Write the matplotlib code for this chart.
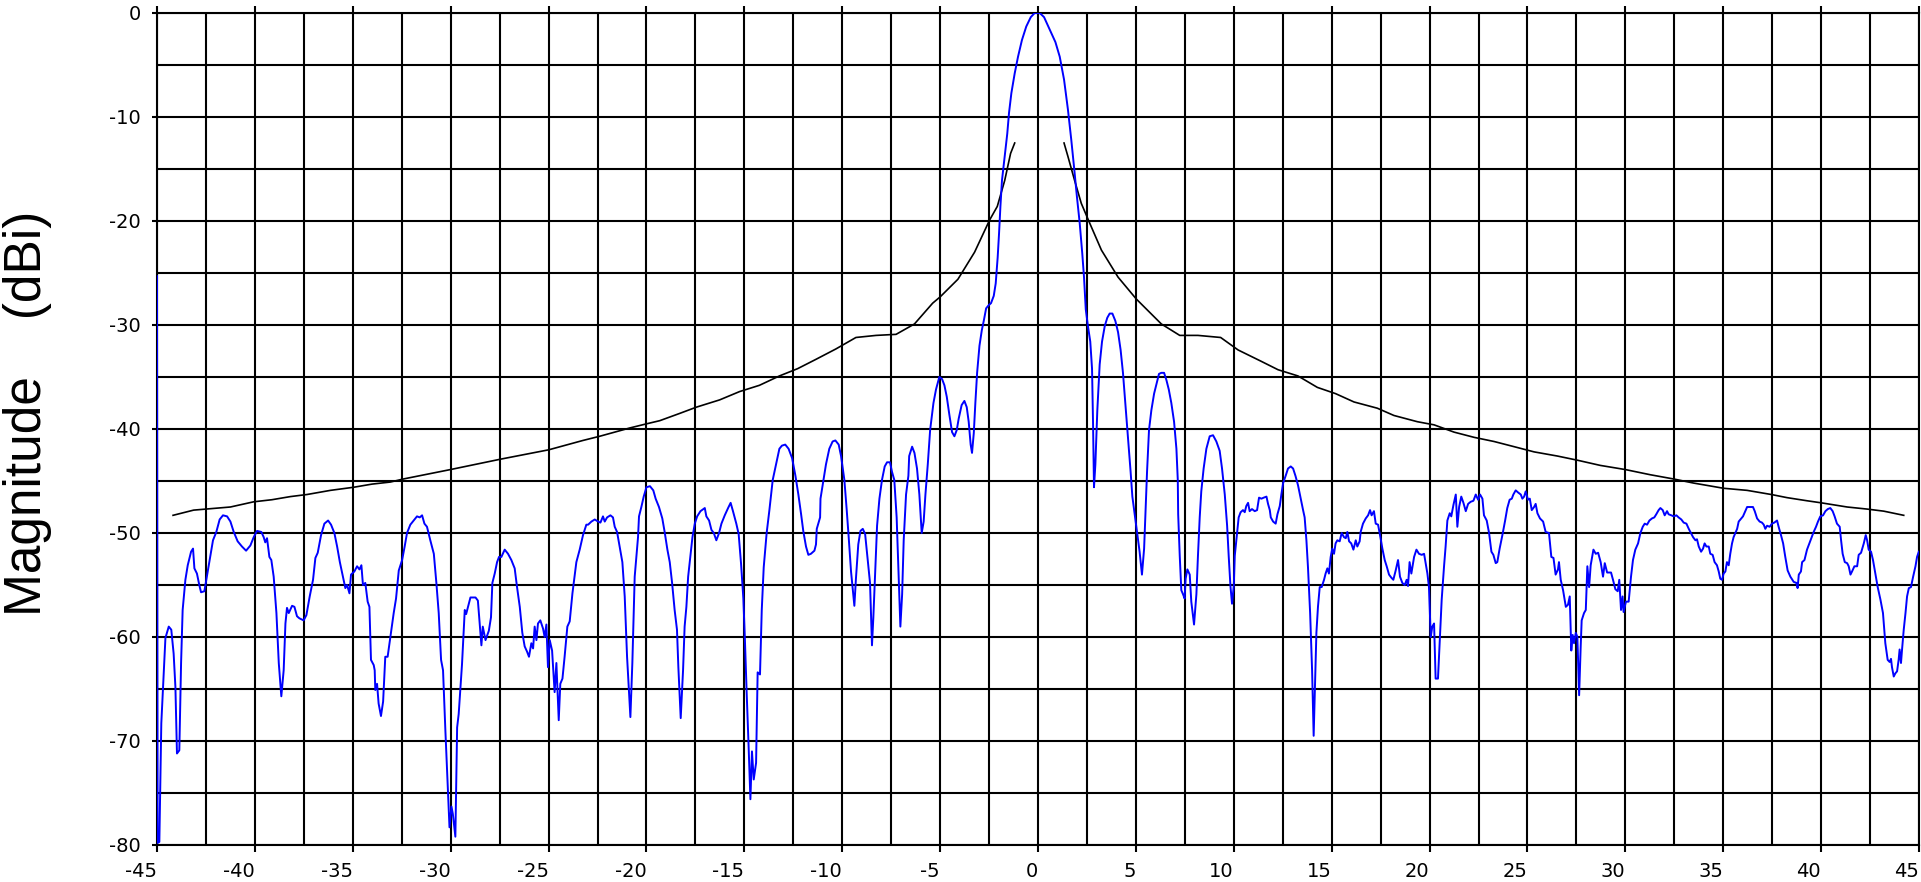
import numpy as np
import matplotlib
matplotlib.use("Agg")
import matplotlib.pyplot as plt

# ---------------- data (angle in degrees, magnitude in dBi) ----------------
pattern_left = [
    (-45.00, -25.3), (-44.97, -79.8), (-44.88, -79.7), (-44.78, -68.3), (-44.57, -60.1),
    (-44.40, -59.0), (-44.27, -59.3), (-44.15, -61.6), (-44.06, -64.8), (-43.98, -71.2),
    (-43.86, -70.9), (-43.77, -62.5), (-43.69, -57.4), (-43.55, -54.5), (-43.43, -53.1),
    (-43.26, -51.8), (-43.16, -51.5), (-43.09, -53.4), (-42.96, -53.9), (-42.84, -55.0),
    (-42.75, -55.7), (-42.58, -55.6), (-42.48, -54.5), (-42.31, -52.6), (-42.14, -50.7),
    (-41.97, -49.9), (-41.80, -48.7), (-41.63, -48.3), (-41.42, -48.4), (-41.25, -48.9),
    (-41.08, -49.9), (-40.88, -50.8), (-40.66, -51.3), (-40.45, -51.7), (-40.23, -51.2),
    (-40.06, -50.4), (-39.89, -49.8), (-39.67, -49.9), (-39.55, -50.4), (-39.47, -50.9),
    (-39.38, -50.5), (-39.26, -52.3), (-39.16, -52.6), (-39.04, -54.2), (-38.90, -57.7),
    (-38.78, -62.5), (-38.65, -65.7), (-38.53, -63.2), (-38.44, -58.7), (-38.36, -57.2),
    (-38.27, -57.7), (-38.10, -57.0), (-37.98, -57.1), (-37.85, -58.0), (-37.73, -58.2),
    (-37.51, -58.4), (-37.37, -57.9), (-37.20, -56.1), (-37.03, -54.5), (-36.91, -52.4),
    (-36.79, -51.9), (-36.62, -50.2), (-36.45, -49.1), (-36.26, -48.8), (-36.11, -49.2),
    (-35.94, -50.0), (-35.80, -51.3), (-35.66, -52.8), (-35.50, -54.2), (-35.38, -55.3),
    (-35.29, -55.0), (-35.17, -55.8), (-35.09, -54.0), (-34.92, -53.7), (-34.78, -53.2),
    (-34.66, -53.5), (-34.56, -53.1), (-34.48, -55.0), (-34.36, -54.8), (-34.24, -56.6),
    (-34.15, -57.1), (-34.07, -62.2), (-33.93, -62.7), (-33.88, -63.2), (-33.85, -65.1),
    (-33.76, -64.5), (-33.68, -66.4), (-33.56, -67.6), (-33.45, -66.2), (-33.34, -61.9),
    (-33.22, -61.9), (-33.08, -60.0), (-32.91, -57.7), (-32.79, -56.3), (-32.65, -53.6),
    (-32.48, -52.6), (-32.35, -51.3), (-32.23, -50.0), (-32.06, -49.2), (-31.89, -48.8),
    (-31.72, -48.4), (-31.58, -48.5), (-31.46, -48.3), (-31.34, -49.1), (-31.21, -49.4),
    (-31.04, -50.7), (-30.86, -52.0), (-30.73, -54.8), (-30.61, -57.7), (-30.49, -62.2),
    (-30.39, -63.2), (-30.27, -69.0), (-30.06, -78.3), (-29.96, -76.3), (-29.89, -77.0),
    (-29.76, -79.2), (-29.67, -68.7), (-29.59, -67.4), (-29.42, -62.6), (-29.28, -57.4),
    (-29.21, -57.8), (-28.99, -56.2), (-28.73, -56.2), (-28.61, -56.5), (-28.43, -60.8),
    (-28.36, -59.0), (-28.22, -60.3), (-28.05, -59.4), (-27.94, -58.1), (-27.87, -54.8),
    (-27.75, -53.9), (-27.63, -52.8), (-27.53, -52.3), (-27.41, -52.3), (-27.24, -51.6),
    (-27.07, -52.0), (-26.90, -52.6), (-26.73, -53.4), (-26.61, -55.2), (-26.47, -57.1),
    (-26.34, -59.6), (-26.22, -60.9), (-26.10, -61.4), (-26.00, -61.9), (-25.88, -60.6),
    (-25.79, -61.1), (-25.71, -59.0), (-25.62, -60.3), (-25.54, -58.7), (-25.42, -58.4),
    (-25.28, -59.2), (-25.20, -60.0), (-25.11, -58.8), (-25.03, -62.9), (-24.94, -60.3),
    (-24.82, -61.3), (-24.69, -65.3), (-24.60, -62.5), (-24.48, -68.0), (-24.40, -64.5),
    (-24.29, -64.0), (-24.18, -61.9), (-24.04, -59.0), (-23.92, -58.5), (-23.78, -55.8),
    (-23.58, -52.8), (-23.41, -51.6), (-23.24, -50.2), (-23.07, -49.2), (-22.98, -49.2),
    (-22.81, -48.9), (-22.64, -48.7), (-22.47, -48.9), (-22.35, -49.0), (-22.22, -48.4),
    (-22.13, -48.9), (-22.01, -48.5), (-21.84, -48.3), (-21.71, -48.5), (-21.62, -49.4),
    (-21.50, -49.9), (-21.37, -51.3), (-21.23, -52.8), (-21.11, -56.1), (-20.99, -61.9),
    (-20.82, -67.7), (-20.72, -62.5), (-20.60, -54.2), (-20.43, -50.4), (-20.38, -48.4),
    (-20.26, -47.5), (-20.14, -46.5), (-20.00, -45.6), (-19.82, -45.5), (-19.65, -45.9),
    (-19.53, -46.7), (-19.36, -47.5), (-19.19, -48.6), (-19.07, -49.9), (-18.93, -51.6),
    (-18.81, -52.8), (-18.69, -54.8), (-18.56, -57.4), (-18.44, -59.3), (-18.37, -62.9),
    (-18.25, -67.8), (-18.13, -63.2), (-18.05, -59.0), (-17.96, -57.1), (-17.87, -54.2),
    (-17.76, -52.3), (-17.65, -50.4), (-17.53, -49.1), (-17.41, -48.4), (-17.24, -47.9),
    (-17.02, -47.6), (-16.94, -48.4), (-16.80, -48.8), (-16.68, -49.7), (-16.56, -50.0),
    (-16.43, -50.7), (-16.29, -50.0), (-16.17, -49.1), (-16.00, -48.3), (-15.83, -47.6),
    (-15.70, -47.1), (-15.58, -47.9), (-15.41, -49.1), (-15.29, -50.1), (-15.17, -52.9),
    (-15.05, -56.3), (-14.97, -60.3), (-14.88, -65.4), (-14.78, -70.6), (-14.69, -75.6),
    (-14.61, -71.0), (-14.52, -73.7), (-14.40, -72.1), (-14.32, -63.4), (-14.20, -63.6),
    (-14.11, -57.4), (-14.01, -53.3), (-13.86, -50.0), (-13.72, -47.8), (-13.55, -44.9),
    (-13.38, -43.4), (-13.21, -41.9), (-13.08, -41.6), (-12.91, -41.5), (-12.74, -41.9),
    (-12.56, -42.8), (-12.39, -44.5), (-12.24, -46.3), (-12.10, -48.2), (-11.99, -49.8),
    (-11.85, -51.3), (-11.73, -52.1), (-11.60, -52.0), (-11.42, -51.7), (-11.34, -51.1),
    (-11.30, -49.6), (-11.13, -48.5), (-11.11, -46.7), (-11.00, -45.4), (-10.83, -43.4),
    (-10.66, -41.9), (-10.49, -41.2), (-10.35, -41.1), (-10.18, -41.5), (-10.06, -42.6),
    (-9.89, -44.9), (-9.77, -47.8), (-9.67, -50.4), (-9.55, -53.7), (-9.38, -57.0),
    (-9.30, -54.4), (-9.18, -51.1), (-9.07, -49.8), (-8.95, -49.6), (-8.83, -50.1),
    (-8.70, -52.6), (-8.58, -54.8), (-8.48, -60.8), (-8.41, -58.1), (-8.32, -54.0),
    (-8.22, -49.3), (-8.10, -46.7), (-7.97, -44.9), (-7.83, -43.6), (-7.71, -43.2),
    (-7.56, -43.2), (-7.46, -44.1), (-7.34, -44.9), (-7.22, -48.5), (-7.12, -54.0),
    (-7.03, -59.0), (-6.94, -55.9), (-6.86, -50.7), (-6.74, -46.3), (-6.62, -44.5),
    (-6.58, -42.6), (-6.43, -41.7), (-6.31, -42.3), (-6.18, -43.8), (-6.06, -46.3),
    (-5.94, -50.0), (-5.84, -48.9), (-5.75, -46.3), (-5.63, -43.4), (-5.51, -40.1),
    (-5.34, -37.5), (-5.21, -36.2), (-5.04, -35.0), (-4.90, -35.2), (-4.78, -35.8),
    (-4.66, -36.9), (-4.53, -38.6), (-4.39, -40.3), (-4.27, -40.7), (-4.15, -40.1),
    (-4.05, -39.0), (-3.90, -37.7), (-3.76, -37.3), (-3.64, -37.9), (-3.54, -39.3),
    (-3.44, -41.5), (-3.37, -42.3), (-3.28, -40.4), (-3.20, -37.5), (-3.11, -34.6),
    (-2.99, -32.0), (-2.87, -30.5), (-2.77, -29.6), (-2.65, -28.4), (-2.52, -28.1),
    (-2.40, -27.9), (-2.26, -27.2),
]

pattern_main = [
    (-2.16, -26.0), (-2.06, -23.5), (-1.99, -21.2), (-1.92, -18.6), (-1.84, -16.1),
    (-1.70, -13.8), (-1.57, -11.6), (-1.48, -9.6), (-1.36, -7.7), (-1.19, -5.8),
    (-1.02, -4.2), (-0.82, -2.6), (-0.60, -1.3), (-0.37, -0.4), (-0.17, 0.0),
    (0.09, 0.0), (0.31, -0.4), (0.60, -1.6), (0.89, -2.8), (1.11, -4.2),
    (1.33, -6.4), (1.53, -9.3), (1.70, -12.2), (1.84, -14.8), (1.99, -17.7),
    (2.13, -20.2), (2.26, -23.1), (2.35, -25.4),
]

pattern_right = [
    (2.44, -28.5), (2.55, -30.1), (2.67, -31.6), (2.76, -34.2), (2.81, -39.3),
    (2.86, -45.6), (2.93, -43.4), (3.03, -38.2), (3.15, -33.8), (3.27, -31.6),
    (3.41, -30.1), (3.54, -29.3), (3.66, -28.9), (3.80, -28.9), (3.95, -29.6),
    (4.09, -30.7), (4.22, -32.4), (4.34, -34.6), (4.46, -37.5), (4.60, -40.8),
    (4.73, -44.1), (4.82, -46.5), (4.94, -48.2), (5.07, -50.0), (5.19, -51.8),
    (5.31, -54.0), (5.42, -51.5), (5.48, -48.5), (5.57, -44.1), (5.67, -40.1),
    (5.79, -38.2), (5.93, -36.6), (6.05, -35.7), (6.18, -34.7), (6.30, -34.6),
    (6.44, -34.6), (6.56, -35.3), (6.68, -36.2), (6.81, -37.5), (6.95, -39.3),
    (7.07, -41.9), (7.14, -44.9), (7.16, -48.2), (7.24, -52.2), (7.32, -55.5),
    (7.41, -55.9), (7.49, -56.3), (7.54, -54.4), (7.63, -53.5), (7.75, -54.0),
    (7.83, -56.6), (7.97, -58.8), (8.09, -55.9), (8.17, -52.2), (8.26, -48.5),
    (8.34, -46.0), (8.46, -43.8), (8.60, -41.9), (8.77, -40.7), (8.94, -40.6),
    (9.11, -41.2), (9.28, -42.1), (9.40, -43.8), (9.54, -46.3), (9.66, -49.3),
    (9.74, -52.2), (9.83, -55.1), (9.91, -56.8), (10.00, -55.1), (10.05, -52.2),
    (10.13, -50.7), (10.25, -48.5), (10.35, -48.0), (10.47, -47.8), (10.56, -48.0),
    (10.64, -47.4), (10.73, -47.1), (10.81, -47.9), (10.93, -47.7), (11.07, -47.9),
    (11.19, -47.8), (11.29, -46.6), (11.41, -46.7), (11.53, -46.6), (11.67, -46.5),
    (11.75, -47.2), (11.84, -47.8), (11.89, -48.5), (12.01, -48.9), (12.14, -49.1),
    (12.23, -48.2), (12.35, -47.4), (12.43, -46.3), (12.52, -45.2), (12.65, -44.5),
    (12.77, -43.8), (12.91, -43.6), (13.03, -43.8), (13.15, -44.5), (13.28, -45.4),
    (13.42, -46.7), (13.54, -47.8), (13.62, -48.5), (13.71, -50.7), (13.79, -53.3),
    (13.90, -57.7), (14.00, -63.2), (14.08, -69.5), (14.15, -64.5), (14.22, -59.6),
    (14.30, -57.1), (14.39, -55.2), (14.49, -55.2), (14.61, -54.5), (14.69, -53.9),
    (14.78, -53.4), (14.86, -53.9), (14.95, -52.3), (15.03, -51.5), (15.12, -52.0),
    (15.20, -51.0), (15.29, -50.7), (15.41, -50.8), (15.51, -50.0), (15.63, -50.4),
    (15.72, -50.5), (15.80, -49.9), (15.89, -50.8), (16.00, -51.0), (16.11, -51.6),
    (16.23, -50.7), (16.31, -51.3), (16.43, -50.8), (16.48, -49.9), (16.60, -49.1),
    (16.74, -48.6), (16.86, -48.3), (16.96, -47.8), (17.04, -48.3), (17.16, -47.9),
    (17.25, -49.1), (17.37, -49.2), (17.47, -50.2), (17.59, -51.5), (17.71, -52.6),
    (17.81, -53.2), (17.93, -54.0), (18.05, -54.3), (18.15, -54.5), (18.27, -53.6),
    (18.39, -52.6), (18.49, -54.2), (18.61, -54.8), (18.73, -55.0), (18.83, -54.5),
    (18.90, -55.1), (18.98, -52.8), (19.07, -53.9), (19.21, -52.3), (19.33, -51.6),
    (19.46, -52.0), (19.60, -52.1), (19.72, -52.0), (19.80, -52.9), (19.89, -53.9),
    (19.97, -55.2), (20.06, -60.0), (20.14, -59.0), (20.23, -58.7), (20.31, -64.0),
    (20.43, -64.0), (20.53, -60.0), (20.62, -56.4), (20.74, -53.2), (20.82, -51.3),
    (20.91, -48.8), (21.03, -48.1), (21.11, -48.4), (21.22, -47.3), (21.34, -46.3),
    (21.42, -49.4), (21.51, -47.5), (21.62, -46.5), (21.73, -47.1), (21.85, -47.9),
    (21.97, -47.2), (22.10, -47.0), (22.24, -46.9), (22.36, -46.3), (22.48, -46.8),
    (22.58, -46.3), (22.70, -46.7), (22.78, -48.3), (22.92, -48.8), (23.04, -50.0),
    (23.16, -51.8), (23.26, -52.1), (23.38, -52.9), (23.46, -52.8), (23.58, -51.5),
    (23.72, -50.2), (23.86, -48.8), (23.97, -47.6), (24.09, -46.8), (24.20, -46.7),
    (24.28, -46.3), (24.40, -45.9), (24.52, -46.1), (24.66, -46.3), (24.74, -46.7),
    (24.83, -46.5), (24.91, -46.0), (25.03, -46.8), (25.12, -46.7), (25.22, -47.8),
    (25.34, -47.5), (25.42, -47.2), (25.51, -48.1), (25.64, -48.6), (25.80, -48.9),
    (25.93, -49.9), (26.10, -50.0), (26.22, -52.3), (26.33, -52.4), (26.44, -54.0),
    (26.56, -53.5), (26.61, -52.8), (26.70, -54.5), (26.82, -55.5), (26.96, -57.1),
    (27.07, -56.9), (27.16, -56.1), (27.24, -61.3), (27.31, -59.8), (27.38, -60.6),
    (27.47, -59.6), (27.55, -60.0), (27.64, -65.6), (27.72, -60.9), (27.77, -58.4),
    (27.89, -57.7), (27.98, -57.4), (28.06, -53.2), (28.15, -55.2), (28.23, -53.1),
    (28.37, -51.6), (28.49, -52.0), (28.61, -51.9), (28.74, -52.8), (28.86, -54.2),
    (28.95, -52.9), (29.07, -53.8), (29.27, -53.8), (29.37, -54.5), (29.49, -55.4),
    (29.61, -55.6), (29.69, -54.5), (29.78, -57.4), (29.86, -56.1), (29.91, -57.6),
    (30.03, -56.6), (30.17, -56.6), (30.29, -54.2), (30.39, -52.6), (30.51, -51.6),
    (30.65, -51.0), (30.77, -50.0), (30.89, -49.4), (30.99, -49.1), (31.11, -49.2),
    (31.23, -48.8), (31.36, -48.6), (31.48, -48.5), (31.58, -48.2), (31.70, -47.8),
    (31.79, -47.6), (31.91, -47.8), (32.01, -48.3), (32.13, -47.9), (32.21, -48.2),
    (32.35, -48.3), (32.47, -48.4), (32.61, -48.3), (32.72, -48.5), (32.86, -48.7),
    (32.98, -49.0), (33.12, -49.1), (33.24, -49.6), (33.35, -50.0), (33.46, -50.4),
    (33.58, -50.7), (33.66, -50.6), (33.75, -51.3), (33.87, -51.8), (33.97, -51.5),
    (34.05, -51.0), (34.14, -51.3), (34.26, -51.3), (34.34, -52.0), (34.46, -52.1),
    (34.56, -52.8), (34.68, -53.1), (34.77, -53.7), (34.85, -54.4), (34.94, -54.5),
    (35.02, -53.9), (35.11, -53.7), (35.19, -52.8), (35.28, -53.1), (35.36, -52.0),
    (35.45, -51.0), (35.53, -50.4), (35.62, -50.0), (35.71, -49.6), (35.79, -48.9),
    (35.88, -48.7), (36.01, -48.4), (36.13, -47.9), (36.22, -47.5), (36.36, -47.5),
    (36.52, -47.5), (36.61, -47.9), (36.73, -48.6), (36.86, -48.9), (36.98, -49.0),
    (37.07, -49.2), (37.15, -49.6), (37.24, -49.3), (37.37, -49.4), (37.49, -49.1),
    (37.61, -49.0), (37.75, -48.8), (37.83, -49.4), (37.95, -50.2), (38.06, -51.0),
    (38.17, -52.3), (38.29, -53.6), (38.43, -54.2), (38.60, -54.7), (38.74, -54.8),
    (38.80, -55.3), (38.86, -54.0), (38.97, -53.7), (39.03, -52.8), (39.15, -52.6),
    (39.28, -51.6), (39.40, -51.0), (39.50, -50.5), (39.62, -49.9), (39.74, -49.4),
    (39.84, -48.9), (39.96, -48.4), (40.10, -48.3), (40.22, -47.9), (40.34, -47.7),
    (40.47, -47.6), (40.59, -47.9), (40.69, -48.4), (40.81, -49.1), (40.95, -49.4),
    (41.02, -50.7), (41.10, -52.0), (41.21, -52.8), (41.33, -52.9), (41.41, -53.2),
    (41.50, -54.0), (41.58, -53.7), (41.70, -53.2), (41.84, -53.2), (41.92, -52.1),
    (42.04, -51.9), (42.18, -51.0), (42.28, -50.2), (42.35, -50.7), (42.43, -51.6),
    (42.55, -51.8), (42.65, -52.6), (42.77, -53.9), (42.89, -55.2), (43.03, -56.4),
    (43.16, -57.7), (43.28, -60.6), (43.40, -62.2), (43.50, -62.4), (43.57, -62.1),
    (43.62, -62.9), (43.71, -63.8), (43.79, -63.5), (43.88, -63.3), (43.96, -62.2),
    (44.01, -61.2), (44.08, -62.5), (44.13, -61.3), (44.22, -59.3), (44.31, -57.7),
    (44.39, -56.1), (44.48, -55.3), (44.59, -55.2), (44.70, -54.2), (44.82, -53.2),
    (44.90, -52.3), (44.99, -51.8),
]

mask_left_angle = [-44.18, -43.13, -41.25, -40.06, -39.13, -38.19, -37.34, -36.14, -34.95,
                   -34.02, -33.08, -32.40, -30.01, -27.45, -24.99, -23.24, -22.39, -20.85,
                   -19.99, -19.32, -18.30, -17.45, -16.26, -15.24, -14.23, -13.21, -12.28,
                   -11.34, -10.32, -9.30, -8.27, -7.25, -6.31, -5.38, -5.00, -4.09, -3.24,
                   -2.47, -2.08, -1.70, -1.40, -1.19]
mask_left_db = [-48.3, -47.8, -47.5, -47.0, -46.8, -46.5, -46.3, -45.9, -45.6,
                -45.3, -45.1, -44.8, -43.9, -42.9, -42.0, -41.1, -40.7, -39.9,
                -39.5, -39.2, -38.5, -37.9, -37.2, -36.4, -35.8, -34.9, -34.2,
                -33.3, -32.3, -31.2, -31.0, -30.9, -29.9, -27.9, -27.3, -25.6, -23.0,
                -19.9, -18.6, -16.1, -13.5, -12.5]

mask_right_angle = [1.33, 1.53, 1.87, 2.21, 2.64, 3.24, 4.09, 5.02, 6.30, 7.24, 8.17, 9.33,
                    10.22, 11.41, 12.26, 13.28, 14.27, 15.20, 16.14, 17.33, 18.18, 19.38,
                    20.23, 21.25, 22.27, 23.29, 24.32, 25.34, 26.53, 27.55, 28.72, 30.00,
                    31.28, 32.45, 33.49, 35.02, 36.22, 37.46, 38.26, 39.28, 40.01, 41.33,
                    42.35, 43.20, 44.22]
mask_right_db = [-12.5, -13.8, -16.1, -18.3, -20.2, -22.8, -25.4, -27.5, -29.9, -31.0, -31.0, -31.2,
                 -32.4, -33.5, -34.3, -34.9, -36.0, -36.6, -37.4, -38.0, -38.7, -39.3,
                 -39.6, -40.3, -40.8, -41.2, -41.7, -42.2, -42.6, -43.0, -43.5, -43.9,
                 -44.4, -44.8, -45.2, -45.7, -45.9, -46.3, -46.6, -46.9, -47.1, -47.5,
                 -47.7, -47.9, -48.3]

x_tick_values = [-45, -40, -35, -30, -25, -20, -15, -10, -5, 0, 5, 10, 15, 20, 25, 30, 35, 40, 45]
x_tick_labels = ['-45', '-40', '-35', '-30', '-25', '-20', '-15', '-10', '-5', '0',
                 '5', '10', '15', '20', '25', '30', '35', '40', '45']
y_tick_values = [-80, -70, -60, -50, -40, -30, -20, -10, 0]
y_tick_labels = ['-80', '-70', '-60', '-50', '-40', '-30', '-20', '-10', '0']
y_label = 'Magnitude    (dBi)'

# ---------------- figure ----------------
plt.rcParams['font.family'] = ['Liberation Sans', 'DejaVu Sans']

W, H = 1921, 882
fig = plt.figure(figsize=(W / 100, H / 100), dpi=100)
fig.patch.set_facecolor('white')
ax = fig.add_axes([157 / W, 37 / H, 1762 / W, 832 / H])

pattern = pattern_left + pattern_main + pattern_right
pat_x = [p[0] for p in pattern]
pat_y = [p[1] for p in pattern]

ax.plot(mask_left_angle, mask_left_db, color='black', lw=1.2, zorder=3)
ax.plot(mask_right_angle, mask_right_db, color='black', lw=1.2, zorder=3)
ax.plot(pat_x, pat_y, color='#0000FF', lw=1.4, zorder=4)

ax.set_xlim(-45, 45)
ax.set_ylim(-80, 0)

ax.set_xticks(x_tick_values)
ax.set_xticklabels(x_tick_labels, ha='right', family=['DejaVu Sans'])
ax.set_xticks(np.arange(-45, 45.01, 2.5), minor=True)
ax.set_yticks(y_tick_values)
ax.set_yticklabels(y_tick_labels, family=['DejaVu Sans'])
ax.set_yticks(np.arange(-80, 0.01, 5), minor=True)

ax.grid(which='both', color='black', lw=1.5, zorder=1)
ax.set_axisbelow(True)
for sp in ax.spines.values():
    sp.set_color('black')
    sp.set_linewidth(1.5)

ax.tick_params(axis='x', which='major', direction='out', length=5, width=1.5,
               top=True, bottom=True, labeltop=False, labelsize=14, pad=7, colors='black')
ax.tick_params(axis='y', which='major', direction='out', length=3.6, width=1.5,
               left=True, right=False, labelsize=14, pad=8, colors='black')
ax.tick_params(which='minor', length=0)

fig.text(28 / W, 1 - 413 / H, y_label, rotation=90, fontsize=37,
         ha='center', va='center', color='black')

fig.savefig('out.png', dpi=100, facecolor='white')
